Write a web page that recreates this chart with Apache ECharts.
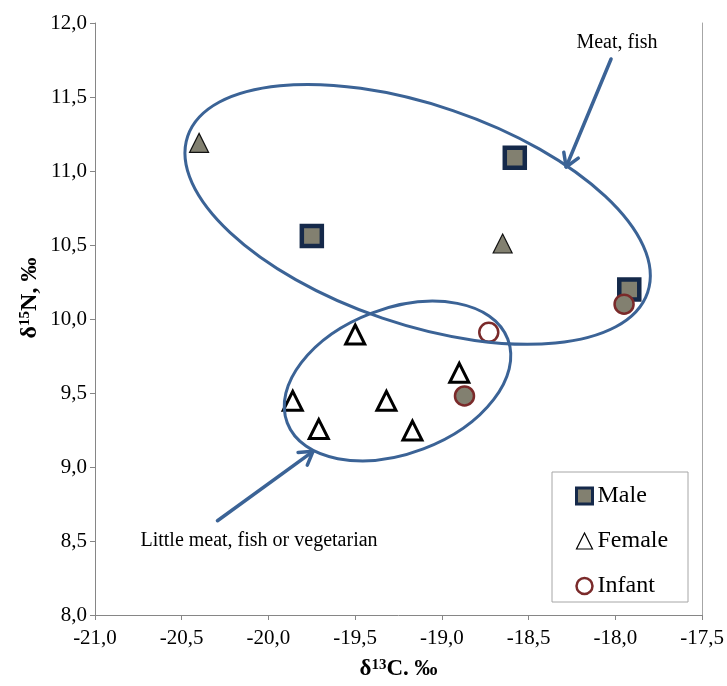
<!DOCTYPE html>
<html>
<head>
<meta charset="utf-8">
<script src="https://cdn.jsdelivr.net/npm/echarts@6/dist/echarts.min.js"></script>
<style>
html,body{margin:0;padding:0;background:#fff;}
#chart{width:727px;height:686px;}
</style>
</head>
<body>
<div id="chart"></div>
<script>
// ---- data ----
const xTicks = [-21.0, -20.5, -20.0, -19.5, -19.0, -18.5, -18.0, -17.5];
const yTicks = [8.0, 8.5, 9.0, 9.5, 10.0, 10.5, 11.0, 11.5, 12.0];

const maleX = [-19.75, -18.58, -17.92];
const maleY = [10.56, 11.09, 10.20];

const femaleX = [-20.40, -18.65, -19.50, -18.90, -19.86, -19.32, -19.71, -19.17];
const femaleY = [11.19, 10.51, 9.895, 9.636, 9.447, 9.447, 9.256, 9.246];
const femaleMeatGroup = [true, true, false, false, false, false, false, false];

const infantX = [-18.87, -18.73, -17.95];
const infantY = [9.48, 9.91, 10.10];
const infantMeatGroup = [true, false, true];

// annotation ellipses (centers in data units)
const ellipseX = [-19.14, -19.256];
const ellipseY = [10.707, 9.581];

// annotation arrows (from -> to, data units)
const arrowFromX = [-18.025, -20.294];
const arrowFromY = [11.757, 8.637];
const arrowToX = [-18.284, -19.743];
const arrowToY = [11.027, 9.106];

// ---- styles ----
const GRAY = '#828070';
const NAVY = '#15294a';
const DARKRED = '#7a2a2a';
const BLUE = '#3b6396';
const FONT = '"Liberation Serif", "Times New Roman", serif';
// ellipse geometry, semi-axes in x-units and rotation (deg, ccw)
const ellipseShape = [
  {a: 1.400, b: 0.632, rot: -18.75},
  {a: 0.680, b: 0.419, rot: 20.8}
];

const fmt = v => v.toFixed(1).replace('.', ',');

const maleData = maleX.map((x, i) => [x, maleY[i]]);
const femaleData = femaleX.map((x, i) => ({
  value: [x, femaleY[i]],
  itemStyle: femaleMeatGroup[i]
    ? {color: GRAY, borderColor: '#111', borderWidth: 1.2}
    : {color: '#fff', borderColor: '#000', borderWidth: 3}
}));
const infantData = infantX.map((x, i) => ({
  value: [x, infantY[i]],
  itemStyle: {color: infantMeatGroup[i] ? GRAY : '#fff'}
}));
const ellipseData = ellipseX.map((x, i) => [x, ellipseY[i], i]);
const arrowData = arrowFromX.map((x, i) => [x, arrowFromY[i], arrowToX[i], arrowToY[i]]);

const chart = echarts.init(document.getElementById('chart'));
chart.setOption({
  animation: false,
  backgroundColor: '#fff',
  grid: {left: 95, right: 24, top: 23, bottom: 66, containLabel: false},
  xAxis: {
    type: 'value', min: xTicks[0], max: xTicks[xTicks.length - 1], interval: 0.5,
    axisLine: {show: true, lineStyle: {color: '#868686', width: 1}},
    axisTick: {show: true, inside: false, length: 5, lineStyle: {color: '#868686'}},
    splitLine: {show: false},
    axisLabel: {fontFamily: FONT, fontSize: 21, color: '#000', margin: 13, formatter: fmt},
    name: '{a|δ}{s|13}{a|C. ‰}',
    nameLocation: 'middle', nameGap: 43,
    nameTextStyle: {
      rich: {
        a: {fontFamily: FONT, fontSize: 23, fontWeight: 'bold', color: '#000'},
        s: {fontFamily: FONT, fontSize: 15, fontWeight: 'bold', color: '#000', verticalAlign: 'top', padding: [0, 0, 8, 0]}
      }
    }
  },
  yAxis: [{
    type: 'value', min: yTicks[0], max: yTicks[yTicks.length - 1], interval: 0.5,
    axisLine: {show: true, lineStyle: {color: '#868686', width: 1}},
    axisTick: {show: true, inside: false, length: 5, lineStyle: {color: '#868686'}},
    splitLine: {show: false},
    axisLabel: {fontFamily: FONT, fontSize: 21, color: '#000', margin: 8, formatter: fmt}
  }, {
    type: 'value', position: 'right', min: yTicks[0], max: yTicks[yTicks.length - 1], interval: 0.5,
    axisLine: {show: true, lineStyle: {color: '#a6a6a6', width: 1}},
    axisTick: {show: false}, axisLabel: {show: false}, splitLine: {show: false}
  }],
  legend: {
    orient: 'vertical', left: 575, top: 484, padding: 0,
    itemWidth: 16, itemHeight: 16, itemGap: 21,
    textStyle: {fontFamily: FONT, fontSize: 24, color: '#000'},
    data: [
      {name: 'Male', icon: 'rect', itemStyle: {color: GRAY, borderColor: NAVY, borderWidth: 3}},
      {name: 'Female', icon: 'triangle', itemStyle: {color: '#fff', borderColor: '#000', borderWidth: 1.2}},
      {name: 'Infant', icon: 'circle', itemStyle: {color: '#fff', borderColor: DARKRED, borderWidth: 2.5}}
    ]
  },
  graphic: [
    {type: 'rect', z: 1, shape: {x: 552, y: 472, width: 136, height: 130},
     style: {fill: '#fff', stroke: '#a6a6a6', lineWidth: 1}},
    {type: 'text', z: 10, x: 617, y: 43,
     style: {text: 'Meat, fish', fontFamily: FONT, fontSize: 20, fill: '#000', align: 'center', verticalAlign: 'middle'}},
    {type: 'text', z: 10, x: 259, y: 541,
     style: {text: 'Little meat, fish or vegetarian', fontFamily: FONT, fontSize: 20, fill: '#000', align: 'center', verticalAlign: 'middle'}},
    {type: 'text', z: 10, x: 30, y: 298, rotation: Math.PI / 2,
     style: {
       text: '{a|δ}{s|15}{a|N, ‰}', align: 'center', verticalAlign: 'middle',
       rich: {
         a: {fontFamily: FONT, fontSize: 24, fontWeight: 'bold', fill: '#000'},
         s: {fontFamily: FONT, fontSize: 15, fontWeight: 'bold', fill: '#000', verticalAlign: 'top', padding: [0, 0, 9, 0]}
       }
     }}
  ],
  series: [
    {
      name: 'Male', type: 'scatter', symbol: 'rect', symbolSize: 20, z: 2,
      itemStyle: {color: GRAY, borderColor: NAVY, borderWidth: 4.5, opacity: 1},
      data: maleData
    },
    {
      name: 'Female', type: 'scatter', symbol: 'triangle', symbolSize: 19, z: 2,
      itemStyle: {color: '#fff', borderColor: '#000', borderWidth: 3, opacity: 1},
      data: femaleData
    },
    {
      name: 'Infant', type: 'scatter', symbol: 'circle', symbolSize: 19, z: 2,
      itemStyle: {color: '#fff', borderColor: DARKRED, borderWidth: 2.5, opacity: 1},
      data: infantData
    },
    {
      name: 'ellipses', type: 'custom', z: 5, silent: true,
      data: ellipseData,
      renderItem: function (params, api) {
        const c = api.coord([api.value(0), api.value(1)]);
        const unit = api.size([1, 0])[0];
        const e = ellipseShape[api.value(2)];
        return {
          type: 'ellipse', x: c[0], y: c[1], rotation: e.rot * Math.PI / 180,
          shape: {cx: 0, cy: 0, rx: e.a * unit, ry: e.b * unit},
          style: {fill: 'none', stroke: BLUE, lineWidth: 3}
        };
      }
    },
    {
      name: 'arrows', type: 'custom', z: 5, silent: true,
      data: arrowData,
      renderItem: function (params, api) {
        const p1 = api.coord([api.value(0), api.value(1)]);
        const p2 = api.coord([api.value(2), api.value(3)]);
        const ang = Math.atan2(p2[1] - p1[1], p2[0] - p1[0]);
        const L = 15, w = 0.55;
        const h1 = [p2[0] - L * Math.cos(ang - w), p2[1] - L * Math.sin(ang - w)];
        const h2 = [p2[0] - L * Math.cos(ang + w), p2[1] - L * Math.sin(ang + w)];
        const st = {stroke: BLUE, lineWidth: 3.5, fill: 'none', lineCap: 'round', lineJoin: 'round'};
        return {
          type: 'group',
          children: [
            {type: 'line', shape: {x1: p1[0], y1: p1[1], x2: p2[0], y2: p2[1]}, style: st},
            {type: 'polyline', shape: {points: [h1, p2, h2]}, style: st}
          ]
        };
      }
    }
  ]
});
</script>
</body>
</html>
